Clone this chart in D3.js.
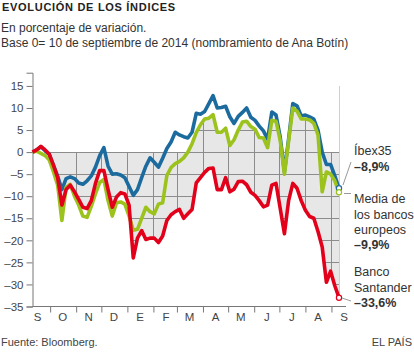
<!DOCTYPE html>
<html>
<head>
<meta charset="utf-8">
<script src="https://cdn.jsdelivr.net/npm/d3@7"></script>
<style>
  body { margin: 0; background: #fff; }
  svg { display: block; font-family: Arial, "Liberation Sans", sans-serif; }
</style>
</head>
<body>
<div id="chart"></div>
<script>
// Fechas (cada 5 días desde el 10 de septiembre de 2014)
const dates = [
  '2014-09-10','2014-09-15','2014-09-20','2014-09-25','2014-09-30',
  '2014-10-05','2014-10-10','2014-10-15','2014-10-20','2014-10-25','2014-10-30',
  '2014-11-04','2014-11-09','2014-11-14','2014-11-19','2014-11-24','2014-11-29',
  '2014-12-04','2014-12-09','2014-12-14','2014-12-19','2014-12-24','2014-12-29',
  '2015-01-03','2015-01-08','2015-01-13','2015-01-18','2015-01-23','2015-01-28',
  '2015-02-02','2015-02-07','2015-02-12','2015-02-17','2015-02-22','2015-02-27',
  '2015-03-04','2015-03-09','2015-03-14','2015-03-19','2015-03-24','2015-03-29',
  '2015-04-03','2015-04-08','2015-04-13','2015-04-18','2015-04-23','2015-04-28',
  '2015-05-03','2015-05-08','2015-05-13','2015-05-18','2015-05-23','2015-05-28',
  '2015-06-02','2015-06-07','2015-06-12','2015-06-17','2015-06-22','2015-06-27',
  '2015-07-02','2015-07-07','2015-07-12','2015-07-17','2015-07-22','2015-07-27',
  '2015-08-01','2015-08-06','2015-08-11','2015-08-16','2015-08-21','2015-08-26','2015-08-31',
  '2015-09-05','2015-09-10'
];

// Íbex35
const ibex = [
  0, 0.5, 1.2, 0.3, -0.5,
  -3.0, -5.5, -8.5, -6.0, -5.6, -6.0,
  -7.0, -7.3, -6.5, -5.4, -3.4, -0.8,
  1.0, -3.2, -5.0, -4.9, -5.2, -5.8,
  -7.8, -9.8, -8.5, -5.8, -3.2, -1.3,
  -2.3, -3.4, -1.4, 0.8, 2.3, 4.5,
  3.9, 3.5, 3.2, 4.5, 8.8, 8.6,
  9.2, 11.0, 12.8, 10.0, 10.1, 10.4,
  8.0, 6.5, 8.1, 9.0, 10.0, 7.9,
  7.2, 5.9, 4.8, 2.9, 9.1, 8.4,
  3.4, -4.5, 3.0, 11.0, 10.5, 8.2,
  8.4, 8.0, 7.5, 5.0, 0.0, -2.8, -2.8,
  -5.4, -8.2
];

// Media de los bancos europeos
const bancos = [
  0, 0.2, -0.3, -0.8, -1.8,
  -4.5, -7.5, -15.5, -8.0, -7.3, -10.0,
  -12.0, -14.5, -14.8, -12.3, -9.4, -6.9,
  -6.2, -11.0, -14.5, -11.5, -11.3, -11.8,
  -14.5, -17.7, -17.5, -15.0, -12.5, -13.5,
  -14.0, -11.8, -11.5, -5.3, -3.5, -2.6,
  -2.1, -1.3, 0.0, 1.9, 4.4, 6.2,
  7.5, 7.7, 8.5, 4.5, 4.5, 5.4,
  1.5, 2.8, 5.0, 6.8, 7.0, 5.8,
  5.2, 3.3, 3.2, 1.0, 7.2, 7.0,
  2.6, -5.0, 2.5, 10.0, 9.3, 7.5,
  7.5, 7.3, 6.5, 3.9, -9.0, -4.5, -5.0,
  -6.5, -9.1
];

// Banco Santander
const santander = [
  0, 0.5, 1.3, 0.5, -0.5,
  -3.0, -5.8, -12.0, -8.5, -7.5, -9.0,
  -10.7, -12.5, -12.8, -11.0, -7.1, -4.2,
  -4.2, -8.5, -12.5, -10.2, -9.2, -9.5,
  -12.0, -24.0, -19.5, -17.8, -19.8, -19.5,
  -19.5, -20.5, -19.0, -15.5, -14.2, -13.5,
  -13.0, -15.0, -14.0, -13.0, -7.0, -5.8,
  -4.6, -3.7, -3.6, -8.5, -8.5, -5.8,
  -9.0, -8.4, -6.7, -6.6, -7.4, -9.1,
  -9.8, -11.0, -12.4, -12.0, -7.5, -7.1,
  -12.8, -18.5, -11.0, -7.1, -8.2, -11.0,
  -13.2, -14.6, -15.0, -18.0, -21.5, -29.5, -27.0,
  -30.3, -33.0
];

const yTicks = [15, 10, 5, 0, -5, -10, -15, -20, -25, -30, -35];
const monthStarts = ['2014-10-01','2014-11-01','2014-12-01','2015-01-01','2015-02-01','2015-03-01',
  '2015-04-01','2015-05-01','2015-06-01','2015-07-01','2015-08-01','2015-09-01'];
const monthLabels = ['S','O','N','D','E','F','M','A','M','J','J','A','S'];
const monthMids = ['2014-09-16','2014-10-16','2014-11-16','2014-12-16','2015-01-16','2015-02-16',
  '2015-03-16','2015-04-16','2015-05-16','2015-06-16','2015-07-16','2015-08-16','2015-09-16'];

function drawChart(containerId)
{
    const width = 414;
    const height = 352;
    const parse = d3.timeParse('%Y-%m-%d');
    const fmt = d => d < 0 ? '\u2013' + Math.abs(d) : d;

    const data = dates.map((d, i) => ({
        date: parse(d), ibex: ibex[i], bancos: bancos[i], santander: santander[i]
    }));

    const svg = d3.select(containerId)
        .append('svg')
        .attr('width', width)
        .attr('height', height);

    // Escalas
    const x = d3.scaleTime()
        .domain([parse(dates[0]), parse(dates[dates.length - 1])])
        .range([32.5, 339]);

    const y = d3.scaleLinear()
        .domain([-35, 18])
        .range([306.5, 72.7]);

    // Títulos
    svg.append('text')
        .attr('x', 2).attr('y', 11)
        .attr('font-size', 11).attr('font-weight', 'bold')
        .attr('letter-spacing', 0.7)
        .attr('fill', '#222')
        .text('EVOLUCIÓN DE LOS ÍNDICES');

    svg.append('text')
        .attr('x', 1).attr('y', 31.5)
        .attr('font-size', 12).attr('fill', '#333')
        .text('En porcentaje de variación.');

    svg.append('text')
        .attr('x', 1).attr('y', 46.5)
        .attr('font-size', 12).attr('fill', '#333')
        .text('Base 0= 10 de septiembre de 2014 (nombramiento de Ana Botín)');

    // Zona gris entre la media europea y el Santander
    const band = d3.area()
        .x(d => x(d.date))
        .y0(d => y(Math.min(0, d.santander)))
        .y1(d => y(Math.max(0, d.bancos)));

    svg.append('clipPath')
        .attr('id', 'band-clip')
        .append('path')
        .attr('d', band(data));

    svg.append('path')
        .attr('d', band(data))
        .attr('fill', '#e7e7e7');

    const grid = svg.append('g')
        .attr('clip-path', 'url(#band-clip)')
        .attr('stroke', '#8c8c8c')
        .attr('stroke-width', 1);

    grid.selectAll('line.h')
        .data(yTicks)
        .enter()
        .append('line')
        .attr('x1', x.range()[0]).attr('x2', x.range()[1])
        .attr('y1', d => Math.round(y(d)) + 0.5)
        .attr('y2', d => Math.round(y(d)) + 0.5);

    grid.selectAll('line.v')
        .data(monthStarts)
        .enter()
        .append('line')
        .attr('x1', d => Math.round(x(parse(d))) + 0.5)
        .attr('x2', d => Math.round(x(parse(d))) + 0.5)
        .attr('y1', y(18)).attr('y2', y(-35));

    // Línea vertical al final del periodo
    const last = data[data.length - 1];
    svg.append('line')
        .attr('x1', Math.round(x(last.date)) + 0.5)
        .attr('x2', Math.round(x(last.date)) + 0.5)
        .attr('y1', y(15))
        .attr('y2', y(last.santander))
        .attr('stroke', '#cfcfcf');

    // Eje Y
    const yAxis = d3.axisLeft(y)
        .tickValues(yTicks)
        .tickSize(6)
        .tickPadding(3)
        .tickFormat(fmt);

    const gy = svg.append('g')
        .attr('transform', 'translate(32.5,0)')
        .call(yAxis);
    gy.select('.domain').attr('stroke', '#777');
    gy.selectAll('.tick line').attr('stroke', '#777');
    gy.selectAll('.tick text')
        .attr('font-size', 11.5)
        .attr('font-family', 'Arial, "Liberation Sans", sans-serif')
        .attr('fill', '#444');

    // Eje X
    const xAxis = d3.axisBottom(x)
        .tickValues(monthStarts.map(parse))
        .tickSize(6)
        .tickSizeOuter(0)
        .tickFormat('');

    const gx = svg.append('g')
        .attr('transform', `translate(0,${y(-35)})`)
        .call(xAxis);
    gx.select('.domain').remove();
    gx.selectAll('.tick line').attr('stroke', '#777');

    svg.append('line')
        .attr('x1', 32.5).attr('x2', 346)
        .attr('y1', y(-35)).attr('y2', y(-35))
        .attr('stroke', '#777');

    svg.selectAll('text.month')
        .data(monthLabels)
        .enter()
        .append('text')
        .attr('x', (d, i) => x(parse(monthMids[i])))
        .attr('y', 320.5)
        .attr('text-anchor', 'middle')
        .attr('font-size', 11.5)
        .attr('fill', '#444')
        .text(d => d);

    // Líneas de las series
    const series = [
        { key: 'ibex', color: '#1c6b9f' },
        { key: 'bancos', color: '#9cc31d' },
        { key: 'santander', color: '#e2001a' }
    ];

    series.forEach(s => {
        const line = d3.line()
            .x(d => x(d.date))
            .y(d => y(d[s.key]));

        svg.append('path')
            .datum(data)
            .attr('d', line)
            .attr('fill', 'none')
            .attr('stroke', s.color)
            .attr('stroke-width', 3.6)
            .attr('stroke-linejoin', 'round');
    });

    series.forEach(s => {
        svg.append('circle')
            .attr('cx', x(last.date))
            .attr('cy', y(last[s.key]))
            .attr('r', 2.6)
            .attr('fill', '#fff')
            .attr('stroke', s.color)
            .attr('stroke-width', 1.2);
    });

    // Líneas guía de las etiquetas
    const guides = [
        [343, 185, 351, 162],
        [344, 193.5, 351, 193.5],
        [342, 298, 351, 301]
    ];
    svg.selectAll('line.guide')
        .data(guides)
        .enter()
        .append('line')
        .attr('x1', d => d[0]).attr('y1', d => d[1])
        .attr('x2', d => d[2]).attr('y2', d => d[3])
        .attr('stroke', '#999');

    // Etiquetas de las series
    const labels = [
        ['Íbex35', 154.5, false],
        ['\u20138,9%', 170.8, true],
        ['Media de', 203.3, false],
        ['los bancos', 219.3, false],
        ['europeos', 233.5, false],
        ['\u20139,9%', 248.5, true],
        ['Banco', 276, false],
        ['Santander', 291.7, false],
        ['\u201333,6%', 306.8, true]
    ];
    svg.selectAll('text.label')
        .data(labels)
        .enter()
        .append('text')
        .attr('x', 354)
        .attr('y', d => d[1])
        .attr('font-size', 12.5)
        .attr('font-weight', d => d[2] ? 'bold' : 'normal')
        .attr('fill', '#333')
        .text(d => d[0]);

    // Pie
    svg.append('text')
        .attr('x', 1).attr('y', 346)
        .attr('font-size', 11).attr('fill', '#444')
        .text('Fuente: Bloomberg.');

    svg.append('text')
        .attr('x', 412).attr('y', 346)
        .attr('text-anchor', 'end')
        .attr('font-size', 11).attr('fill', '#444')
        .text('EL PAÍS');
}

drawChart('#chart');
</script>
</body>
</html>
